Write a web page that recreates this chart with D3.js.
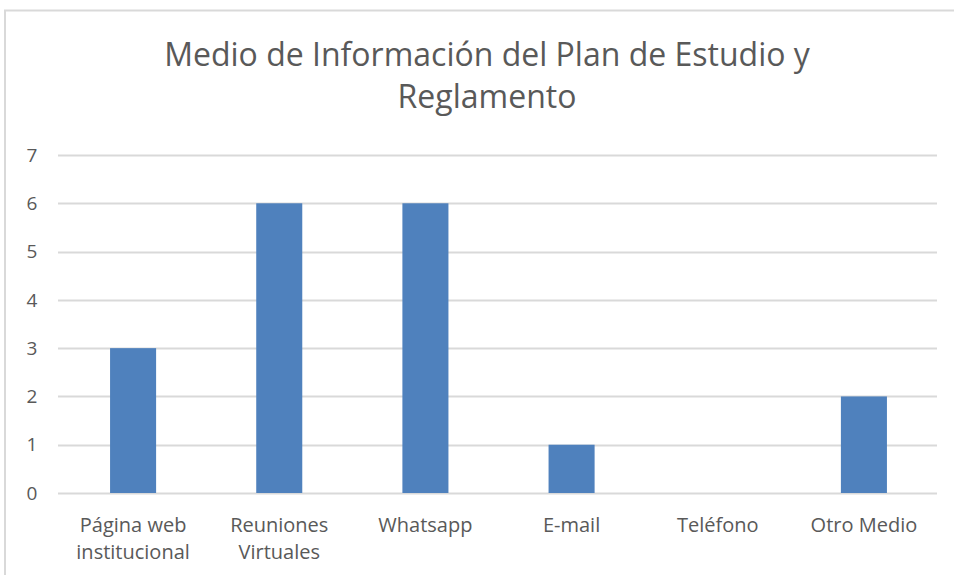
<!DOCTYPE html>
<html>
<head>
<meta charset="utf-8">
<script src="https://cdn.jsdelivr.net/npm/d3@7"></script>
<style>
  body { margin: 0; background: #fff; }
  text { font-family: "Open Sans", "Noto Sans", sans-serif; fill: #595959; }
</style>
</head>
<body>
<div id="chart"></div>
<script>
var categories = [["Página web", "institucional"], ["Reuniones", "Virtuales"], ["Whatsapp"], ["E-mail"], ["Teléfono"], ["Otro Medio"]];
var values = [3, 6, 6, 1, 0, 2];
var yTicks = [0, 1, 2, 3, 4, 5, 6, 7];
var titleLines = ["Medio de Información del Plan de Estudio y", "Reglamento"];

var width = 954, height = 575;
var margin = {top: 155, right: 17, bottom: 82, left: 58};

var svg = d3.select("#chart")
    .append("svg")
    .attr("width", width)
    .attr("height", height);

// chart frame (cropped at right and bottom)
svg.append("path")
    .attr("d", "M5,575 L5,10.5 L954,10.5")
    .attr("fill", "none")
    .attr("stroke", "#d9d9d9")
    .attr("stroke-width", 2);

svg.append("text")
    .attr("x", 487)
    .attr("y", 66)
    .attr("text-anchor", "middle")
    .style("font-size", "32px")
    .selectAll("tspan")
    .data(titleLines)
    .enter()
    .append("tspan")
    .attr("x", 487)
    .attr("dy", function(d, i) { return i == 0 ? 0 : 42; })
    .text(function(d) { return d; });

// bars sit a couple of px right of band centre in the original
var x = d3.scaleBand()
    .domain(d3.range(categories.length))
    .range([margin.left + 2, width - margin.right])
    .paddingInner(0.685)
    .paddingOuter(0.3425);

var y = d3.scaleLinear()
    .domain([0, 7])
    .range([height - margin.bottom, margin.top]);

// gridlines
svg.append("g")
    .selectAll("line")
    .data(yTicks)
    .enter()
    .append("line")
    .attr("x1", margin.left)
    .attr("x2", width - margin.right)
    .attr("y1", function(d) { return Math.round(y(d)) + 0.5; })
    .attr("y2", function(d) { return Math.round(y(d)) + 0.5; })
    .attr("stroke", "#d9d9d9")
    .attr("stroke-width", 2);

// y tick labels
svg.append("g")
    .selectAll("text")
    .data(yTicks)
    .enter()
    .append("text")
    .attr("x", 32)
    .attr("y", function(d) { return y(d); })
    .attr("dy", "0.35em")
    .attr("text-anchor", "middle")
    .style("font-size", "19px")
    .text(function(d) { return d; });

// bars
svg.append("g")
    .selectAll("rect")
    .data(values)
    .enter()
    .append("rect")
    .attr("x", function(d, i) { return x(i); })
    .attr("width", x.bandwidth())
    .attr("y", function(d) { return y(d); })
    .attr("height", function(d) { return y(0) - y(d); })
    .attr("fill", "#4f81bd");

// x labels
svg.append("g")
    .selectAll("text")
    .data(categories)
    .enter()
    .append("text")
    .attr("text-anchor", "middle")
    .attr("y", 532)
    .style("font-size", "20px")
    .each(function(d, i) {
        var cx = x(i) + x.bandwidth() / 2;
        d3.select(this).selectAll("tspan")
            .data(d)
            .enter()
            .append("tspan")
            .attr("x", cx)
            .attr("dy", function(s, j) { return j == 0 ? 0 : 27; })
            .text(function(s) { return s; });
    });
</script>
</body>
</html>
